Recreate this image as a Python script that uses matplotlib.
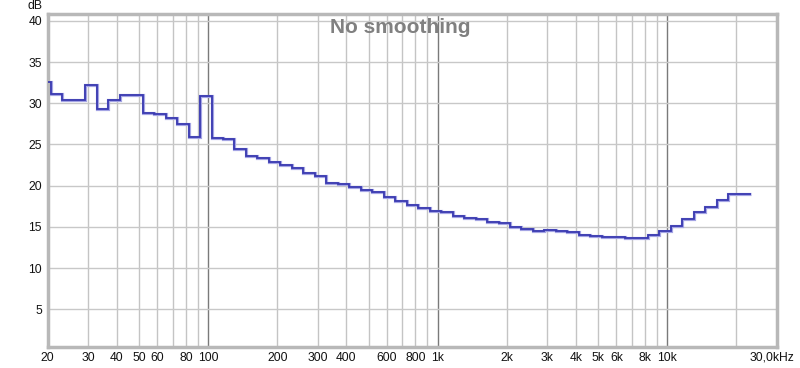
import matplotlib
matplotlib.use("Agg")
import matplotlib.pyplot as plt
import numpy as np

# Band edges (Hz), 1/20-decade bands
edges = [18.40, 20.65, 23.17, 26.00, 29.17, 32.73, 36.73, 41.21, 46.24, 51.87,
         58.20, 65.31, 73.27, 82.21, 92.25, 103.5, 116.1, 130.3, 146.2, 164.0,
         184.1, 206.5, 231.7, 260.0, 291.7, 327.3, 367.2, 412.0, 462.3, 518.7,
         582.0, 653.1, 732.7, 822.1, 922.4, 1035, 1161, 1303, 1462, 1640,
         1841, 2065, 2317, 2600, 2917, 3273, 3672, 4120, 4623, 5187,
         5820, 6531, 7327, 8221, 9224, 10350, 11610, 13030, 14620, 16400,
         18410, 20650, 23170]

# Level per band (dB)
levels = [32.6, 31.07, 30.34, 30.38, 32.28, 29.29, 30.38, 30.98, 31.02, 28.80,
          28.74, 28.16, 27.43, 25.85, 30.86, 25.73, 25.61, 24.40, 23.59, 23.35,
          22.90, 22.53, 22.10, 21.49, 21.13, 20.35, 20.19, 19.86, 19.46, 19.26,
          18.65, 18.13, 17.61, 17.28, 16.95, 16.77, 16.35, 16.10, 15.91, 15.62,
          15.43, 15.01, 14.77, 14.53, 14.65, 14.45, 14.33, 14.04, 13.92, 13.80,
          13.80, 13.61, 13.68, 14.06, 14.51, 15.10, 15.91, 16.83, 17.44, 18.25,
          18.94, 18.94]

minor_freqs = [30, 40, 50, 60, 70, 80, 90, 200, 300, 400, 500, 600, 700, 800, 900,
               2000, 3000, 4000, 5000, 6000, 7000, 8000, 9000, 20000]
major_freqs = [100, 1000, 10000]
xtick_vals = [20, 30, 40, 50, 60, 80, 100, 200, 300, 400, 600, 800, 1000,
              2000, 3000, 4000, 5000, 6000, 8000, 10000]
xtick_labels = ["20", "30", "40", "50", "60", "80", "100", "200", "300", "400",
                "600", "800", "1k", "2k", "3k", "4k", "5k", "6k", "8k", "10k"]
ytick_vals = [5, 10, 15, 20, 25, 30, 35, 40]

plt.rcParams['font.family'] = ['Liberation Sans', 'DejaVu Sans']

W, H = 800, 368
fig = plt.figure(figsize=(W / 100, H / 100), dpi=100)
left_px, right_px, top_px, bot_px = 47.6, 776.8, 13.5, 346.7
ax = fig.add_axes([left_px / W, (H - bot_px) / H, (right_px - left_px) / W, (bot_px - top_px) / H])

ax.set_xscale('log')
ax.set_xlim(20, 30000)
ax.set_ylim(0.45, 40.9)

for f in minor_freqs:
    ax.axvline(f, color='#c4c4c4', lw=1.0, zorder=1)
for f in major_freqs:
    ax.axvline(f, color='#7a7a7a', lw=1.0, zorder=1)
for y in ytick_vals:
    ax.axhline(y, color='#c8c8c8', lw=1.0, zorder=1)

ax.stairs(levels, edges, color='#a4a4e4', lw=2.3, zorder=2, baseline=None)
ax.stairs(levels, edges, color='#3a3ab0', lw=1.3, zorder=3, baseline=None)

ax.set_xticks(xtick_vals)
ax.set_xticklabels(xtick_labels)
ax.minorticks_off()
ax.set_xticks([], minor=True)
ax.set_yticks(ytick_vals)
ax.set_yticklabels([str(v) for v in ytick_vals])
ax.tick_params(axis='both', length=0, labelsize=8.7, colors='#111111')
ax.tick_params(axis='x', pad=4)
ax.tick_params(axis='y', pad=4)

for s in ax.spines.values():
    s.set_color('#b8b8b8')
    s.set_linewidth(2.5)

fig.text(771.5 / W, (H - 357) / H, "30,0kHz", ha='center', va='center', fontsize=8.7, color='#111111')
fig.text(42 / W, (H - 9) / H, "dB", ha='right', va='baseline', fontsize=8.7, color='#111111')
fig.text(400 / W, (H - 33) / H, "No smoothing", ha='center', va='baseline', fontsize=15,
         fontweight='bold', color='#808080')

fig.savefig("out.png", dpi=100)
